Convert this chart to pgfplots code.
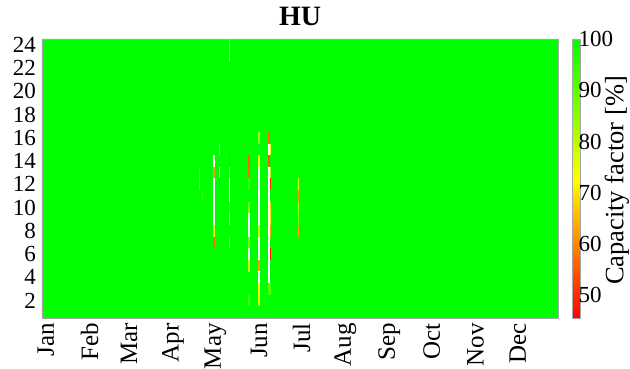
\documentclass[border=0pt]{standalone}
\usepackage{fontspec}
\setmainfont{Liberation Serif}
\usepackage{pgfplots}
\pgfplotsset{compat=1.18}
\pgfdeclareplotmark{cell}{\pgfpathrectangle{\pgfqpoint{-0.75pt}{-5.82pt}}{\pgfqpoint{1.5pt}{11.64pt}}\pgfusepath{fill}}
\begin{document}
\begin{tikzpicture}
\begin{axis}[
  name=main,
  scale only axis, width=516pt, height=279pt,
  xmin=0.5, xmax=365.5, ymin=0.5, ymax=24.5,
  axis on top,
  /pgf/number format/assume math mode=true,
  ytick={2,4,...,24},
  xtick={1,32,60,91,121,152,182,213,244,274,305,335},
  xticklabels={Jan,Feb,Mar,Apr,May,Jun,Jul,Aug,Sep,Oct,Nov,Dec},
  major tick length=0pt,
  axis line style={draw=black!35, line width=0.5pt},
  yticklabel style={font=\fontsize{23}{23}\selectfont, inner sep=0pt, xshift=-6pt},
  xticklabel style={font=\fontsize{25}{25}\selectfont, inner sep=0pt, yshift=-5pt, xshift=3pt, rotate=90, anchor=east},
  title={HU},
  title style={font=\fontsize{28}{28}\bfseries\selectfont, inner sep=0pt, anchor=base, yshift=7pt},
  colormap={ryg}{rgb255=(255,0,0) rgb255=(255,255,0) rgb255=(0,255,0)},
  point meta min=45.6, point meta max=100,
  colorbar,
  colorbar style={
    scale only axis, width=8pt, height=279pt,
    at={(parent axis.north east)}, anchor=north west, xshift=6pt,
    ytick={50,60,...,100},
    major tick length=0pt,
    axis line style={draw=black!35, line width=0.5pt},
    /pgf/number format/assume math mode=true,
    yticklabel style={font=\fontsize{23}{23}\selectfont, inner sep=0pt, xshift=-2pt},
    ylabel={Capacity factor [\%]},
    every axis y label/.style={at={(axis description cs:1,0.5)}, xshift=24pt, yshift=-2pt, anchor=north, rotate=90, inner sep=0pt, font=\fontsize{26.5}{26.5}\selectfont},
  },
]
% value 100 everywhere else
\addplot[fill={rgb,255:red,0;green,255;blue,0}, draw=none] coordinates {(0.5,0.5) (365.5,0.5) (365.5,24.5) (0.5,24.5)} \closedcycle;
% cells below 100
\addplot[scatter, only marks, mark=cell, point meta=explicit,
  scatter/use mapped color={fill=mapped color, draw=none}]
  table[x index=0, y index=1, meta index=2] {
d h v
112 13 92
112 12 90
114 11 95
122 13 62
122 8 75
122 7 58
126 15 85
126 13 75
126 12 57
133 24 85
133 23 85
133 14 57
133 13 85
133 10 92
133 9 78
133 7 85
147 14 56
147 13 57
147 12 95
147 10 86
147 7 90
147 5 78
147 2 92
154 16 85
154 14 74
154 8 78
154 5 62
154 3 73
154 2 76
161 16 57
161 14 55
161 3 92
162 15 74
162 13 82
162 12 50
162 10 68
162 9 70
162 8 64
162 6 48
162 3 90
182 12 75
182 11 62
182 10 83
182 9 88
182 8 63
};
% missing values (white)
\addplot[only marks, mark=cell, mark options={fill=white, draw=none}] table {
d h
122 14
122 12
122 11
122 10
122 9
133 12
133 11
147 9
147 8
147 6
154 13
154 12
154 11
154 10
154 9
154 7
154 6
154 4
161 15
161 13
161 12
161 11
161 10
161 9
161 8
161 7
161 6
161 5
161 4
};
\end{axis}
\pgfresetboundingbox
\path ([xshift=-42pt,yshift=-51pt]main.south west) rectangle ([xshift=72pt,yshift=39pt]main.north east);
\end{tikzpicture}
\end{document}
